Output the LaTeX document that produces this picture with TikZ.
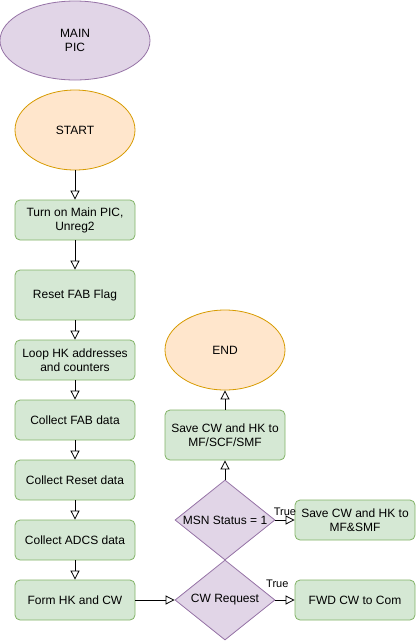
\documentclass[tikz,border=0pt]{standalone}
\usepackage{fontspec}
\setmainfont{Liberation Sans}
\usetikzlibrary{shapes.geometric,arrows.meta}
\definecolor{gfill}{HTML}{D5E8D4}
\definecolor{gline}{HTML}{82B366}
\definecolor{pfill}{HTML}{E1D5E7}
\definecolor{pline}{HTML}{9673A6}
\definecolor{ofill}{HTML}{FFE6CC}
\definecolor{oline}{HTML}{D79B00}
\tikzset{
  base/.style={font=\fontsize{12}{14}\selectfont, align=center, inner sep=0pt, line width=0.8pt},
  gbox/.style={base, rectangle, rounded corners=5pt, fill=gfill, draw=gline, minimum width=120pt},
  oell/.style={base, ellipse, fill=ofill, draw=oline, minimum width=120pt, minimum height=80pt},
  pell/.style={base, ellipse, fill=pfill, draw=pline, minimum width=150pt, minimum height=79pt},
  pdia/.style={base, diamond, fill=pfill, draw=pline, minimum width=100pt, minimum height=80pt, aspect=1.25},
  flow/.style={line width=0.8pt, -{Triangle[open, length=9pt, width=9pt]}},
  lbl/.style={font=\fontsize{11}{13}\selectfont, inner sep=0pt}
}
\begin{document}
\begin{tikzpicture}[x=1pt, y=-1pt]
\useasboundingbox (0,0) rectangle (416,641);
\node[pell] (main) at (75,40.5) {MAIN\\PIC};
\node[oell] (start) at (75,130) {START};
\node[gbox, minimum height=40pt] (b1) at (75,220) {Turn on Main PIC,\\Unreg2};
\node[gbox, minimum height=50pt] (b2) at (75,295) {Reset FAB Flag};
\node[gbox, minimum height=40pt] (b3) at (75,360) {Loop HK addresses\\and counters};
\node[gbox, minimum height=40pt] (b4) at (75,420) {Collect FAB data};
\node[gbox, minimum height=40pt] (b5) at (75,480) {Collect Reset data};
\node[gbox, minimum height=40pt] (b6) at (75,540) {Collect ADCS data};
\node[gbox, minimum height=40pt] (b7) at (75,600) {Form HK and CW};
\node[pdia] (cw) at (225,600) {CW Request};
\node[pdia] (msn) at (225,520) {MSN Status = 1};
\node[gbox, minimum height=50pt] (save) at (225,435) {Save CW and HK to\\MF/SCF/SMF};
\node[oell] (end) at (225,350) {END};
\node[gbox, minimum height=40pt] (save2) at (355,520) {Save CW and HK to\\MF\&SMF};
\node[gbox, minimum height=40pt] (fwd) at (355,600) {FWD CW to Com};
\draw[flow] (start) -- (b1);
\draw[flow] (b1) -- (b2);
\draw[flow] (b2) -- (b3);
\draw[flow] (b3) -- (b4);
\draw[flow] (b4) -- (b5);
\draw[flow] (b5) -- (b6);
\draw[flow] (b6) -- (b7);
\draw[flow] (b7) -- (cw);
\draw[flow] (msn) -- (save);
\draw[flow] (save) -- (end);
\draw[flow] (msn) -- (save2) node[lbl, pos=0.5, above=4pt] (t1) {True};
\draw[flow] (cw) -- (fwd) node[lbl, pos=0.1, above=12pt] (t2) {True};
\end{tikzpicture}
\end{document}
